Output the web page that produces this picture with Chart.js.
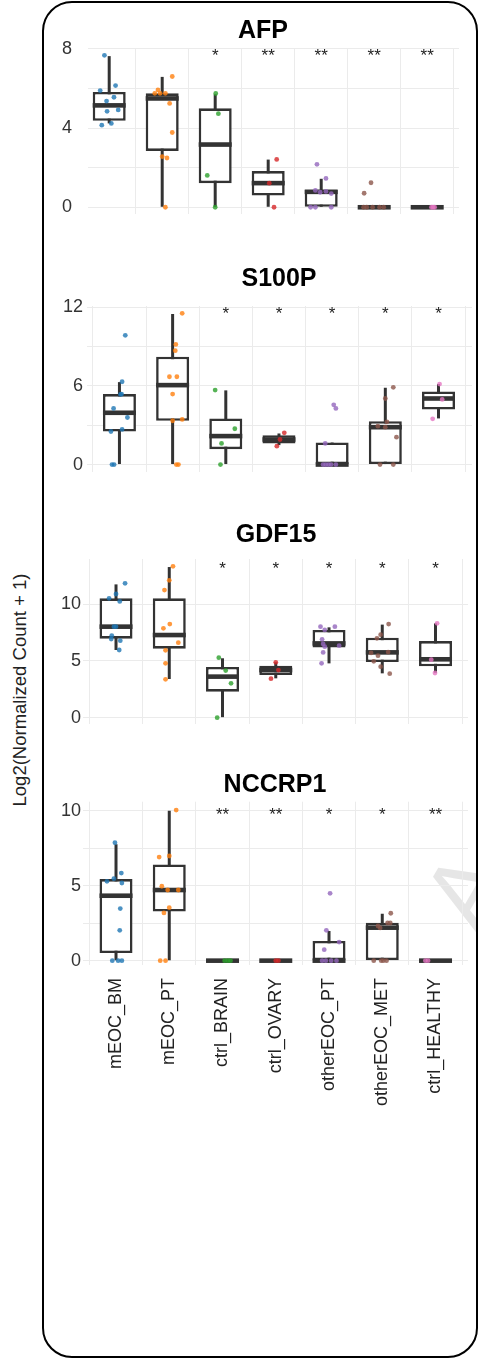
<!DOCTYPE html>
<html>
<head>
<meta charset="utf-8">
<script src="https://cdn.jsdelivr.net/npm/chart.js@4.4.1/dist/chart.umd.min.js"></script>
<style>
  body { margin: 0; background: #fff; }
  #page { position: relative; width: 478px; height: 1358px; overflow: hidden; font-family: 'Liberation Sans', Arial, sans-serif; }
  #frame { position: absolute; left: 42px; top: 1px; width: 436px; height: 1357px; border: 2px solid #000; border-radius: 30px; box-sizing: border-box; }
  canvas { position: absolute; left: 42px; }
  .ptitle { position: absolute; transform: translateX(-50%); font-size: 25px; line-height: 25px; font-weight: bold; color: #000; white-space: nowrap; }
  #ytitle { position: absolute; left: 20px; top: 690px; transform: translate(-50%, -50%) rotate(-90deg); white-space: nowrap; font-size: 18.5px; color: #222; }
  #mark { position: absolute; left: 432px; top: 832px; font-size: 100px; color: #e6e6e6; transform: rotate(-60deg); transform-origin: center; }
</style>
</head>
<body>
<div id="page">
  <div id="mark">A</div>
  <div id="frame"></div>
  <canvas id="afpChart" width="436" height="242" style="top:0px"></canvas>
  <canvas id="s100pChart" width="436" height="262" style="top:226px"></canvas>
  <canvas id="gdf15Chart" width="436" height="254" style="top:484px"></canvas>
  <canvas id="nccrp1Chart" width="436" height="384" style="top:736px"></canvas>
  <div class="ptitle" style="left:263px; top:17px">AFP</div>
  <div class="ptitle" style="left:279px; top:265px">S100P</div>
  <div class="ptitle" style="left:276px; top:521px">GDF15</div>
  <div class="ptitle" style="left:275px; top:771px">NCCRP1</div>
  <div id="ytitle">Log2(Normalized Count + 1)</div>
</div>
<script>
// categories and colours
const categories = ['mEOC_BM', 'mEOC_PT', 'ctrl_BRAIN', 'ctrl_OVARY', 'otherEOC_PT', 'otherEOC_MET', 'ctrl_HEALTHY'];
const groupColors = ['rgba(31,119,180,0.8)', 'rgba(255,127,14,0.8)', 'rgba(44,160,44,0.8)', 'rgba(214,39,40,0.8)',
                     'rgba(148,103,189,0.8)', 'rgba(140,86,75,0.8)', 'rgba(227,119,194,0.8)'];

// box stats per group: [lower whisker, q1, median, q3, upper whisker]
const afpBoxes = [[4.24, 4.37, 5.15, 5.83, 7.64], [0, 2.85, 5.5, 5.76, 6.59], [0, 1.22, 3.17, 5.0, 5.71],
                  [0, 0.59, 1.22, 1.83, 2.41], [0, 0, 0.78, 0.88, 1.44], [0, 0, 0, 0, 0], [0, 0, 0, 0, 0]];
const afpValues = [[7.68, 5.9, 6.15, 5.37, 5.56, 4.85, 4.92, 4.15, 4.24],
                   [6.61, 5.93, 5.76, 5.76, 5.76, 5.25, 3.78, 2.56, 2.49, 0],
                   [5.75, 4.73, 1.61, 0],
                   [2.42, 1.22, 0],
                   [2.17, 1.46, 0.85, 0.76, 0.8, 0.69, 0, 0, 0],
                   [1.24, 0.71, 0, 0, 0, 0, 0],
                   [0, 0, 0]];
const afpJitter = [[-0.09, -0.17, 0.12, -0.05, 0.09, -0.04, 0.17, -0.14, 0.04],
                   [0.19, -0.08, -0.14, -0.04, 0.06, 0.14, 0.19, 0, 0.09, 0.06],
                   [0.01, 0.06, -0.15, 0],
                   [0.16, 0.02, 0.11],
                   [-0.08, 0.09, -0.11, -0.02, 0.09, 0.19, -0.2, -0.11, 0.19],
                   [-0.06, -0.19, -0.2, -0.14, -0.03, 0.1, 0.18],
                   [0.08, 0.14, 0.11]];
const afpStars = ['', '', '*', '**', '**', '**', '**'];

const s100pBoxes = [[0, 2.52, 3.95, 5.38, 6.29], [0, 3.34, 6.06, 8.23, 11.49], [0, 1.17, 2.17, 3.52, 5.66],
                    [1.48, 1.6, 1.91, 2.24, 2.37], [0, 0, 0, 1.68, 1.68], [0, 0, 2.85, 3.31, 5.86], [3.52, 4.2, 5.04, 5.58, 6.14]];
const s100pValues = [[9.86, 6.32, 5.35, 5.38, 4.28, 3.59, 2.52, 2.68, 0, 0],
                     [11.54, 9.17, 8.69, 6.7, 6.7, 5.38, 3.34, 3.44, 0, 0],
                     [5.68, 2.73, 1.61, 0],
                     [2.42, 1.91, 1.4],
                     [4.56, 4.28, 1.61, 0, 0, 0, 0, 0],
                     [5.89, 5.04, 2.93, 2.85, 3.26, 2.09, 0, 0],
                     [6.14, 4.97, 3.49]];
const s100pJitter = [[0.11, 0.05, 0.02, 0.04, -0.11, 0.15, -0.16, 0.05, -0.14, -0.1],
                     [0.18, 0.06, 0.05, -0.06, 0.08, 0, 0, 0.18, 0.07, 0.11],
                     [-0.2, 0.17, -0.08, -0.1],
                     [0.1, 0.02, -0.04],
                     [0.03, 0.07, -0.13, -0.17, -0.12, -0.07, -0.02, 0.07],
                     [0.15, 0, -0.14, 0, 0.03, 0.21, -0.1, 0.15],
                     [0.02, 0.07, -0.11]];
const s100pStars = ['', '', '*', '*', '*', '*', '*'];

const gdf15Boxes = [[5.97, 6.97, 8.03, 10.53, 11.76], [3.41, 6.09, 7.29, 10.53, 13.29], [0, 2.29, 3.62, 4.47, 5.24],
                    [3.47, 3.76, 4.2, 4.59, 4.88], [4.79, 6.2, 6.55, 7.74, 7.97], [3.91, 4.91, 5.76, 7.06, 8.21], [3.97, 4.53, 5.15, 6.76, 8.32]];
const gdf15Values = [[11.85, 10.53, 10.91, 10.26, 8.03, 8.03, 7.24, 6.94, 6.79, 5.97],
                     [13.35, 12.12, 11.26, 8.26, 7.88, 6.62, 5.94, 4.79, 3.38],
                     [5.29, 4.15, 3.03, 0],
                     [4.88, 4.2, 3.44],
                     [8.03, 8.03, 7.74, 6.91, 6.5, 6.26, 6.35, 5.76, 4.79],
                     [8.26, 7.32, 7.0, 5.71, 5.79, 5.47, 4.97, 4.5, 3.88],
                     [8.32, 5.12, 3.94]];
const gdf15Jitter = [[0.17, -0.13, 0, 0.07, -0.04, 0, -0.08, -0.09, 0.08, 0.06],
                     [0.07, 0, -0.09, 0.01, -0.11, 0.17, -0.07, -0.07, -0.07],
                     [-0.07, 0.06, 0.16, -0.1],
                     [0, 0.05, -0.09],
                     [-0.16, 0.11, -0.08, -0.13, -0.11, -0.08, 0.19, -0.11, -0.14],
                     [0.12, -0.03, -0.1, -0.21, 0.11, -0.08, -0.16, -0.03, 0.14],
                     [0.03, -0.08, -0.01]];
const gdf15Stars = ['', '', '*', '*', '*', '*', '*'];

const nccrp1Boxes = [[0, 0.51, 4.33, 5.44, 7.76], [0, 3.27, 4.71, 6.42, 10.0], [0, 0, 0, 0, 0], [0, 0, 0, 0, 0],
                     [0, 0, 0, 1.31, 1.98], [0, 0, 2.2, 2.53, 3.13], [0, 0, 0, 0, 0]];
const nccrp1Values = [[7.87, 5.84, 5.29, 5.47, 5.18, 3.47, 2.02, 0, 0, 0],
                      [10.04, 6.91, 6.98, 4.96, 4.71, 4.71, 3.53, 3.18, 0, 0],
                      [0, 0, 0],
                      [0, 0],
                      [4.49, 2.02, 1.24, 0.73, 0, 0, 0, 0],
                      [3.16, 2.51, 2.51, 2.31, 2.18, 0, 0, 0, 0],
                      [0, 0]];
const nccrp1Jitter = [[-0.02, 0.1, -0.17, -0.04, 0.11, 0.08, 0.07, -0.07, 0.04, 0.11],
                      [0.13, -0.19, 0, -0.14, -0.03, 0.17, 0, -0.1, -0.17, -0.07],
                      [0.04, 0.1, 0.15],
                      [0, 0.05],
                      [0.02, -0.05, 0.19, -0.09, -0.13, -0.06, 0.04, 0.14],
                      [0.16, 0.1, 0.15, -0.08, -0.04, -0.16, -0.02, 0.02, 0.08],
                      [-0.19, -0.14]];
const nccrp1Stars = ['', '', '**', '**', '*', '*', '**'];

// y tick / grid values
const afpGrid = [0, 1, 2, 3, 4, 5, 6, 7, 8];
const afpLabels = [0, 4, 8];
const s100pGrid = [0, 1.5, 3, 4.5, 6, 7.5, 9, 10.5, 12];
const s100pLabels = [0, 6, 12];
const gdf15Grid = [0, 5, 10];
const gdf15Labels = [0, 5, 10];
const nccrp1Grid = [0, 1.25, 2.5, 3.75, 5, 6.25, 7.5, 8.75, 10];
const nccrp1Labels = [0, 5, 10];

Chart.defaults.font.family = "'Liberation Sans', Arial, sans-serif";
Chart.defaults.animation = false;

// median lines on top of boxes
const medianPlugin = {
    id: 'medians',
    afterDatasetDraw(chart, args) {
        if (args.index !== 1) return;
        const ctx = chart.ctx;
        const y = chart.scales.y;
        ctx.save();
        ctx.fillStyle = '#333';
        args.meta.data.forEach((bar, i) => {
            const med = chart.options.plugins.medians.values[i];
            const py = y.getPixelForValue(med);
            ctx.fillRect(bar.x - bar.width / 2, py - 2.3, bar.width, 4.6);
        });
        ctx.restore();
    }
};

// significance stars above each group
const starPlugin = {
    id: 'stars',
    afterDatasetsDraw(chart) {
        const opts = chart.options.plugins.stars;
        const ctx = chart.ctx;
        ctx.save();
        ctx.fillStyle = '#222';
        ctx.font = "17px 'Liberation Sans', Arial, sans-serif";
        ctx.textAlign = 'center';
        ctx.textBaseline = 'alphabetic';
        opts.labels.forEach((s, i) => {
            if (!s) return;
            ctx.fillText(s, chart.scales.x.getPixelForValue(i), chart.scales.y.getPixelForValue(opts.y) + 9.7);
        });
        ctx.restore();
    }
};

function makePanel(id, boxes, values, jitter, stars, starY, grid, labels, p) {
    const whiskers = boxes.map((b, i) => ({x: i, y: [b[0], b[4]]}));
    const iqr = boxes.map((b, i) => ({x: i, y: [b[1], b[3]]}));
    const pts = [];
    const cols = [];
    values.forEach((arr, i) => {
        arr.forEach((v, j) => {
            pts.push({x: i + jitter[i][j], y: v});
            cols.push(groupColors[i]);
        });
    });
    new Chart(document.getElementById(id), {
        type: 'bar',
        data: {
            datasets: [
                {data: whiskers, backgroundColor: '#333', maxBarThickness: 3, grouped: false, order: 3, borderWidth: 0},
                {data: iqr, backgroundColor: '#fff', borderColor: '#333', borderWidth: 2.6, borderSkipped: false,
                 maxBarThickness: 33, grouped: false, order: 2},
                {type: 'scatter', data: pts, pointBackgroundColor: cols, pointBorderWidth: 0, pointRadius: 2.4, order: 0}
            ]
        },
        plugins: [medianPlugin, starPlugin],
        options: {
            responsive: false,
            layout: {padding: {left: 18, right: p.padR, top: p.padTop, bottom: 0}},
            plugins: {
                legend: {display: false},
                tooltip: {enabled: false},
                medians: {values: boxes.map(b => b[2])},
                stars: {labels: stars, y: starY}
            },
            scales: {
                x: {
                    type: 'linear', min: p.xMin, max: p.xMax, offset: false,
                    afterBuildTicks: s => { s.ticks = categories.map((c, i) => ({value: i})); },
                    afterFit: s => { s.height = p.xHeight; },
                    grid: {color: '#ebebeb', lineWidth: 1, drawTicks: false},
                    border: {display: false},
                    ticks: {display: p.showX, autoSkip: false, minRotation: 90, maxRotation: 90, padding: 13,
                            color: '#222', font: {size: 18}, callback: v => categories[v]}
                },
                y: {
                    min: p.yMin, max: p.yMax,
                    afterBuildTicks: s => { s.ticks = grid.map(v => ({value: v})); },
                    afterFit: s => { s.width = p.yWidth; },
                    grid: {color: '#ebebeb', lineWidth: 1, drawTicks: false},
                    border: {display: false},
                    ticks: {padding: p.yPad, color: '#333', font: {size: 18},
                            callback: v => labels.includes(v) ? String(v) : ''}
                }
            }
        }
    });
}

makePanel('afpChart', afpBoxes, afpValues, afpJitter, afpStars, 7.88, afpGrid, afpLabels,
    {padR: 19, padTop: 48, yWidth: 28, yPad: 16, xHeight: 28, showX: false,
     xMin: -0.4, xMax: 6.6, yMin: -0.34, yMax: 8.05});
makePanel('s100pChart', s100pBoxes, s100pValues, s100pJitter, s100pStars, 11.85, s100pGrid, s100pLabels,
    {padR: 6, padTop: 80, yWidth: 27, yPad: 4, xHeight: 16, showX: false,
     xMin: -0.61, xMax: 6.63, yMin: -0.57, yMax: 12.1});
makePanel('gdf15Chart', gdf15Boxes, gdf15Values, gdf15Jitter, gdf15Stars, 13.56, gdf15Grid, gdf15Labels,
    {padR: 10, padTop: 75, yWidth: 23, yPad: 2, xHeight: 14, showX: false,
     xMin: -0.62, xMax: 6.61, yMin: -0.56, yMax: 14.0});
makePanel('nccrp1Chart', nccrp1Boxes, nccrp1Values, nccrp1Jitter, nccrp1Stars, 10.04, nccrp1Grid, nccrp1Labels,
    {padR: 10, padTop: 65.7, yWidth: 23, yPad: 2, xHeight: 155, showX: true,
     xMin: -0.62, xMax: 6.61, yMin: -0.29, yMax: 10.6});
</script>
</body>
</html>
